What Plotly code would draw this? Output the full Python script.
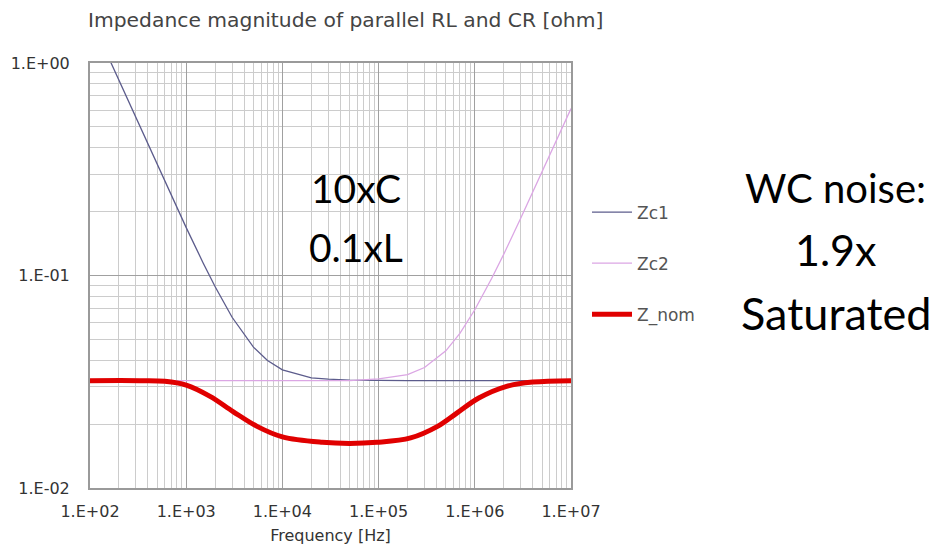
import plotly.graph_objects as go

# ---- data ----
freq_zc = [100, 150, 200, 300, 500, 700, 1000, 1500, 2000, 3000, 5000, 7000,
           1e4, 2e4, 3e4, 5e4, 1e5, 2e5, 3e5, 5e5, 7e5, 1e6, 1.5e6, 2e6, 3e6, 5e6, 7e6, 1e7]
zc1 = [1.65, 1.10, 0.825, 0.55, 0.33, 0.238, 0.168, 0.1146, 0.0885, 0.0636, 0.046, 0.0398,
       0.036, 0.033, 0.0325, 0.0322, 0.032, 0.032, 0.032, 0.032, 0.032, 0.032, 0.032, 0.032,
       0.032, 0.032, 0.032, 0.032]
zc2 = [0.032, 0.032, 0.032, 0.032, 0.032, 0.032, 0.032, 0.032, 0.032, 0.032, 0.032, 0.032,
       0.032, 0.032, 0.032, 0.032, 0.0326, 0.0342, 0.0369, 0.0442, 0.0534, 0.069, 0.097, 0.126,
       0.186, 0.307, 0.428, 0.61]

freq_nom = [100, 330, 600, 1000, 1770, 3070, 5450, 1e4, 2.6e4, 5e4, 9.6e4, 2.15e5, 4.1e5,
            6.5e5, 1.1e6, 2.1e6, 4e6, 1e7]
z_nom = [0.032, 0.032, 0.0318, 0.0305, 0.027, 0.0229, 0.0195, 0.0174, 0.0164, 0.0162, 0.0164,
         0.0172, 0.0195, 0.0225, 0.0265, 0.030, 0.0315, 0.032]

x_tickvals = [1e2, 1e3, 1e4, 1e5, 1e6, 1e7]
x_ticktext = ["1.E+02", "1.E+03", "1.E+04", "1.E+05", "1.E+06", "1.E+07"]
y_tickvals = [1e-2, 1e-1, 1e0]
y_ticktext = ["1.E-02", "1.E-01", "1.E+00"]

x_minor = [m * 10 ** e for e in range(2, 7) for m in range(2, 10)]
y_minor = [m * 10 ** e for e in range(-2, 0) for m in range(2, 10)]

title_text = "Impedance magnitude of parallel RL and CR [ohm]"
x_title = "Frequency [Hz]"
left_notes = ["10xC", "0.1xL"]
right_notes = ["WC noise:", "1.9x", "Saturated"]
right_sizes = [40, 43, 45]

FONT = "DejaVu Sans"
GRAY = "#555555"

fig = go.Figure()
fig.add_trace(go.Scatter(x=freq_zc, y=zc1, mode="lines", name="Zc1", legendgroup="a",
                         line=dict(color="#5c5c8c", width=1.3)))
fig.add_trace(go.Scatter(x=freq_zc, y=zc2, mode="lines", name="Zc2", legendgroup="b",
                         line=dict(color="#dba6e4", width=1.3)))
fig.add_trace(go.Scatter(x=freq_nom, y=z_nom, mode="lines", name="Z_nom", legendgroup="c",
                         line=dict(color="#e00000", width=5, shape="spline", smoothing=1.0)))

axis_common = dict(
    type="log", showline=True, linecolor="#9a9a9a", linewidth=2, mirror=True,
    showgrid=True, gridcolor="#a0a0a0", gridwidth=1, zeroline=False,
    tickfont=dict(family=FONT, size=16, color="#333333"), ticks="",
)

fig.update_xaxes(range=[2, 7], tickvals=x_tickvals, ticktext=x_ticktext,
                 minor=dict(tickvals=x_minor, showgrid=True, gridcolor="#cccccc", gridwidth=1),
                 title=dict(text=x_title, font=dict(family=FONT, size=16, color="#333333"),
                            standoff=10),
                 ticklabelstandoff=8, **axis_common)
fig.update_yaxes(range=[-2, 0], tickvals=y_tickvals, ticktext=y_ticktext,
                 minor=dict(tickvals=y_minor, showgrid=True, gridcolor="#cccccc", gridwidth=1),
                 ticklabelstandoff=15, **axis_common)

for i, t in enumerate(left_notes):
    fig.add_annotation(text=t, xref="paper", yref="paper", x=0.553, y=[0.706, 0.567][i],
                       showarrow=False, font=dict(family="Lato", size=39, color="#000000"),
                       xanchor="center", yanchor="middle")
for i, t in enumerate(right_notes):
    fig.add_annotation(text=t, xref="paper", yref="paper", x=1.550, y=[0.706, 0.56, 0.412][i],
                       showarrow=False,
                       font=dict(family="Lato", size=right_sizes[i], color="#000000"),
                       xanchor="center", yanchor="middle")

fig.update_layout(
    width=940, height=554,
    margin=dict(l=90, r=369, t=63, b=66, autoexpand=False),
    paper_bgcolor="white", plot_bgcolor="white",
    title=dict(text=title_text, x=88 / 940, xanchor="left", y=1 - 20 / 554, yanchor="middle",
               font=dict(family=FONT, size=20.3, color="#444444")),
    showlegend=True,
    legend=dict(xref="container", yref="container", x=587 / 940, y=1 - 194.5 / 554,
                xanchor="left", yanchor="top", tracegroupgap=26, itemwidth=40,
                font=dict(family=FONT, size=17, color=GRAY), bgcolor="rgba(0,0,0,0)"),
)

fig.write_html("out.html",
               config={"displayModeBar": False},
               post_script="document.body.style.margin='0px';document.body.style.overflow='hidden';")
